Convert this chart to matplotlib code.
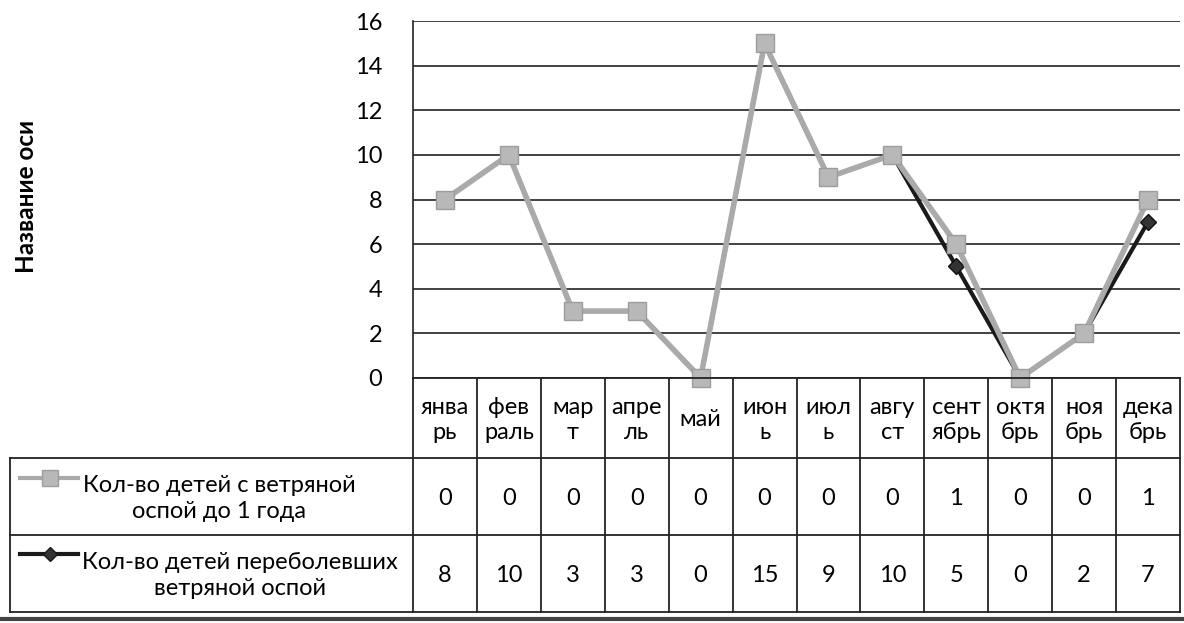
import numpy as np
import matplotlib
matplotlib.use("Agg")
import matplotlib.pyplot as plt
from matplotlib.lines import Line2D

plt.rcParams['font.family'] = ['Lato', 'DejaVu Sans']

# data
months = ["янва\nрь", "фев\nраль", "мар\nт", "апре\nль", "май", "июн\nь",
          "июл\nь", "авгу\nст", "сент\nябрь", "октя\nбрь", "ноя\nбрь", "дека\nбрь"]
infants = [0, 0, 0, 0, 0, 0, 0, 0, 1, 0, 0, 1]
recovered = [8, 10, 3, 3, 0, 15, 9, 10, 5, 0, 2, 7]
infants_label = "Кол-во детей с ветряной\nоспой до 1 года"
recovered_label = "Кол-во детей переболевших\nветряной оспой"
yticks = [0, 2, 4, 6, 8, 10, 12, 14, 16]

W, H = 1184, 623
fig = plt.figure(figsize=(W / 100, H / 100), dpi=100)

px_left, px_right = 413, 1180
px_top, px_zero = 21, 378
ax = fig.add_axes([px_left / W, 1 - px_zero / H, (px_right - px_left) / W, (px_zero - px_top) / H])

x = np.arange(len(months))
stacked = np.array(recovered) + np.array(infants)  # stacked line chart

gray = "#aaaaaa"
ax.plot(x, recovered, color="#1a1a1a", lw=3, marker="D", ms=8,
        markerfacecolor="#333333", markeredgecolor="#111111", zorder=3, clip_on=False)
ax.plot(x, stacked, color=gray, lw=4, marker="s", ms=13,
        markerfacecolor="#b8b8b8", markeredgecolor="#9d9d9d", zorder=4, clip_on=False)

ax.set_xlim(-0.5, len(months) - 0.5)
ax.set_ylim(0, 16)
ax.set_yticks(yticks)
ax.set_xticks([])
ax.yaxis.grid(True, color="#222222", lw=1.2)
ax.tick_params(axis="y", length=0, labelsize=17, pad=22)
for s in ["top", "right", "bottom"]:
    ax.spines[s].set_visible(False)
ax.spines["left"].set_color("#222222")
ax.spines["left"].set_linewidth(1.2)
ax.set_axisbelow(True)

fig.text(27 / W, 1 - 196 / H, "Название оси", rotation=90, fontsize=17.5,
         fontweight="bold", ha="center", va="center")

# data table in pixel coordinates
tax = fig.add_axes([0, 0, 1, 1])
tax.set_xlim(0, W)
tax.set_ylim(H, 0)
tax.axis("off")

row_y = [378, 458, 535, 612]
col_x = np.linspace(px_left, px_right, len(months) + 1)
lc = "#222222"
tax.plot([px_left, px_right], [row_y[0], row_y[0]], color=lc, lw=1.3)
for yy in row_y[1:]:
    tax.plot([10, px_right], [yy, yy], color=lc, lw=1.3)
tax.plot([10, 10], [row_y[1], row_y[3]], color=lc, lw=1.3)
for xx in col_x:
    tax.plot([xx, xx], [row_y[0], row_y[3]], color=lc, lw=1.3)
# scan edge at the bottom
tax.plot([0, W], [619, 619], color="#444444", lw=3)

fs = 17
for i, m in enumerate(months):
    cx = (col_x[i] + col_x[i + 1]) / 2
    tax.text(cx, (row_y[0] + row_y[1]) / 2 + 2, m, ha="center", va="center",
             fontsize=fs, linespacing=1.2)
    tax.text(cx, (row_y[1] + row_y[2]) / 2 + 2, str(infants[i]), ha="center",
             va="center", fontsize=fs)
    tax.text(cx, (row_y[2] + row_y[3]) / 2 + 2, str(recovered[i]), ha="center",
             va="center", fontsize=fs)

# row headers with legend keys
tax.add_line(Line2D([20, 50, 78], [478, 478, 478], color=gray, lw=3, marker="s", ms=11,
                    markevery=[1], markerfacecolor="#b8b8b8", markeredgecolor="#9d9d9d"))
tax.add_line(Line2D([20, 50, 78], [554, 554, 554], color="#1a1a1a", lw=3, marker="D", ms=7,
                    markevery=[1], markerfacecolor="#333333"))
tax.text(219, (row_y[1] + row_y[2]) / 2 + 2, infants_label, ha="center", va="center",
         fontsize=fs, linespacing=1.3)
tax.text(240, (row_y[2] + row_y[3]) / 2 + 2, recovered_label, ha="center", va="center",
         fontsize=fs, linespacing=1.3)

fig.savefig("out.png", dpi=100, facecolor="white")
